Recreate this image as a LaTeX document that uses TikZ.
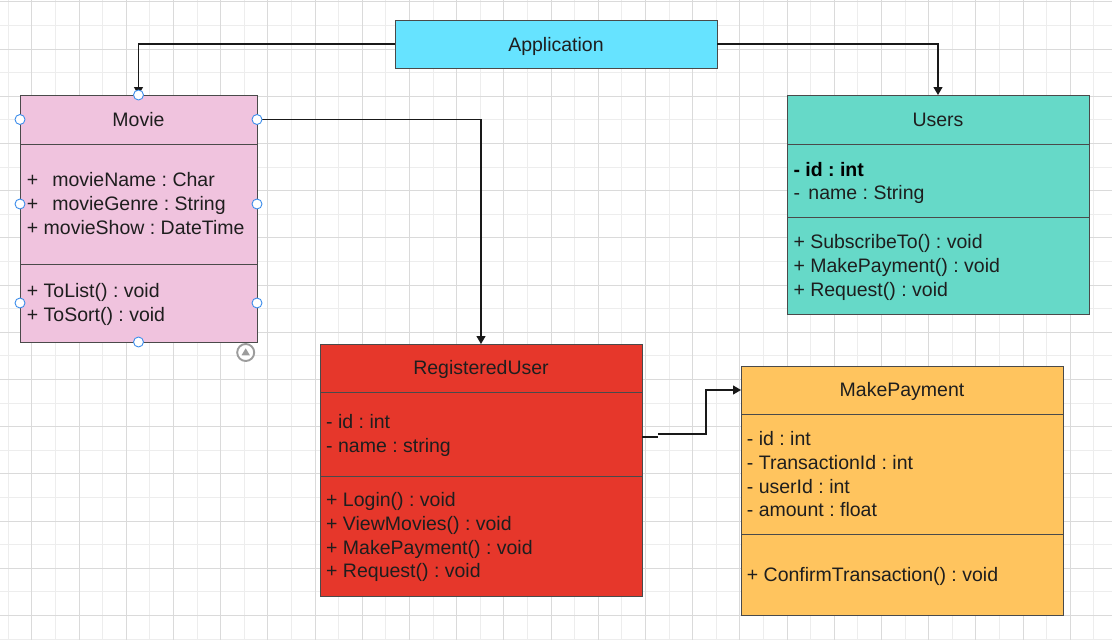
\documentclass[tikz,border=0pt]{standalone}
\usepackage{fontspec}
\setmainfont{Liberation Sans}
\usetikzlibrary{arrows.meta,calc}

\definecolor{gridlight}{HTML}{EDEDED}
\definecolor{griddark}{HTML}{DADADA}
\definecolor{boxline}{HTML}{4A4A4A}
\definecolor{txt}{HTML}{1E1E1E}
\definecolor{appfill}{HTML}{66E3FF}
\definecolor{moviefill}{HTML}{F0C3DE}
\definecolor{usersfill}{HTML}{66D9C8}
\definecolor{regfill}{HTML}{E6372B}
\definecolor{payfill}{HTML}{FFC45E}
\definecolor{handleblue}{HTML}{3C8DEB}
\definecolor{hintgrey}{HTML}{9C9C9C}

\newcommand{\umlfont}{\fontsize{19.5}{23}\selectfont\frenchspacing}

\begin{document}
\begin{tikzpicture}[x=1pt,y=-1pt,
  part/.style={draw=boxline, line width=1pt, inner sep=0pt, outer sep=0pt},
  title/.style={inner sep=0pt, anchor=base, text=txt, font=\umlfont},
  member/.style={inner sep=0pt, anchor=base west, text=txt, font=\umlfont},
  conn/.style={draw=black!90, line width=1.2pt},
  arrowconn/.style={conn, -{Triangle[length=8pt,width=9pt]}},
  handle/.style={circle, draw=handleblue, fill=white, line width=0.9pt, minimum size=10pt, inner sep=0pt}
]
\useasboundingbox (0,0) rectangle (1112,640);
\fill[white] (0,0) rectangle (1112,640);

% background grid: light lines first, darker lines every second step
\foreach \k in {0,...,23} {
  \draw[gridlight, line width=1pt] ({8.3+47.2*\k},0) -- ({8.3+47.2*\k},640);
  \draw[gridlight, line width=1pt] (0,{25.5+47.2*\k}) -- (1112,{25.5+47.2*\k});
}
\foreach \k in {0,...,23} {
  \draw[griddark, line width=1pt] ({31.9+47.2*\k},0) -- ({31.9+47.2*\k},640);
  \draw[griddark, line width=1pt] (0,{1.9+47.2*\k}) -- (1112,{1.9+47.2*\k});
}

% Application
\node[part, fill=appfill, minimum width=322pt, minimum height=48pt] (app) at (556,44) {};
\node[title] (apptitle) at (556,51) {Application};

% Movie
\node[part, fill=moviefill, minimum width=237pt, minimum height=49pt] (movieh) at (138.5,119.5) {};
\node[part, fill=moviefill, minimum width=237pt, minimum height=120pt] (moviea) at (138.5,204) {};
\node[part, fill=moviefill, minimum width=237pt, minimum height=78pt] (moviem) at (138.5,303) {};
\node[title] (movietitle) at (138.5,126) {Movie};
\node[member] (mv1) at (26.7,186.7) {+\hspace{14pt}movieName : Char};
\node[member] (mv2) at (26.7,210.5) {+\hspace{14pt}movieGenre : String};
\node[member] (mv3) at (26.7,234.2) {+ movieShow : DateTime};
\node[member] (mv4) at (26.7,297.7) {+ ToList() : void};
\node[member] (mv5) at (26.7,321.2) {+ ToSort() : void};

% Users
\node[part, fill=usersfill, minimum width=302pt, minimum height=49pt] (usersh) at (938,119.5) {};
\node[part, fill=usersfill, minimum width=302pt, minimum height=73pt] (usersa) at (938,180.5) {};
\node[part, fill=usersfill, minimum width=302pt, minimum height=97pt] (usersm) at (938,265.5) {};
\node[title] (userstitle) at (938,126) {Users};
\node[member, font=\umlfont\bfseries, text=black] (us1) at (793.3,176.7) {- id : int};
\node[member] (us2) at (793.3,199.6) {-\hspace{8.5pt}name : String};
\node[member] (us3) at (793.3,248.3) {+ SubscribeTo() : void};
\node[member] (us4) at (793.3,272) {+ MakePayment() : void};
\node[member] (us5) at (793.3,296) {+ Request() : void};

% RegisteredUser
\node[part, fill=regfill, minimum width=322pt, minimum height=48.5pt] (regh) at (481,368.25) {};
\node[part, fill=regfill, minimum width=322pt, minimum height=83.5pt] (rega) at (481,434.25) {};
\node[part, fill=regfill, minimum width=322pt, minimum height=120pt] (regm) at (481,536) {};
\node[title] (regtitle) at (481,374.7) {RegisteredUser};
\node[member] (rg1) at (326,428.3) {- id : int};
\node[member] (rg2) at (326,452) {- name : string};
\node[member] (rg3) at (326,506.7) {+ Login() : void};
\node[member] (rg4) at (326,530.3) {+ ViewMovies() : void};
\node[member] (rg5) at (326,554) {+ MakePayment() : void};
\node[member] (rg6) at (326,577.7) {+ Request() : void};

% MakePayment
\node[part, fill=payfill, minimum width=322pt, minimum height=48pt] (payh) at (902,390) {};
\node[part, fill=payfill, minimum width=322pt, minimum height=120pt] (paya) at (902,474) {};
\node[part, fill=payfill, minimum width=322pt, minimum height=81pt] (paym) at (902,574.5) {};
\node[title] (paytitle) at (902,396.7) {MakePayment};
\node[member] (py1) at (746.7,445.7) {- id : int};
\node[member] (py2) at (746.7,469.3) {- TransactionId : int};
\node[member] (py3) at (746.7,493.2) {- userId : int};
\node[member] (py4) at (746.7,516.8) {- amount : float};
\node[member] (py5) at (746.7,581) {+ ConfirmTransaction() : void};

% connectors
\draw[arrowconn] (app.west) -| (movieh.north);
\draw[arrowconn] (app.east) -| (usersh.north);
\draw[arrowconn] (movieh.east) -| (regh.north);
\coordinate (jogA) at (658,437);
\coordinate (jogB) at (658,434);
\coordinate (bend) at (706,434);
\draw[conn] (rega.east |- jogA) -- (jogA);
\draw[arrowconn] (jogB) -- (bend) |- (payh.west);

% selection handles around Movie
\node[handle] (hN) at (movieh.north) {};
\node[handle] (hS) at (moviem.south) {};
\node[handle] (hW1) at (movieh.west) {};
\node[handle] (hE1) at (movieh.east) {};
\node[handle] (hW2) at (moviea.west) {};
\node[handle] (hE2) at (moviea.east) {};
\node[handle] (hW3) at (moviem.west) {};
\node[handle] (hE3) at (moviem.east) {};

% small round button below the Movie box
\node[circle, draw=hintgrey, fill=white, line width=1.9pt, minimum size=17pt, inner sep=0pt] (hint) at (245.7,352.5) {};
\fill[hintgrey] ($(hint.center)+(-4.2,2.8)$) -- ($(hint.center)+(4.2,2.8)$) -- ($(hint.center)+(0,-4.2)$) -- cycle;
\end{tikzpicture}
\end{document}
